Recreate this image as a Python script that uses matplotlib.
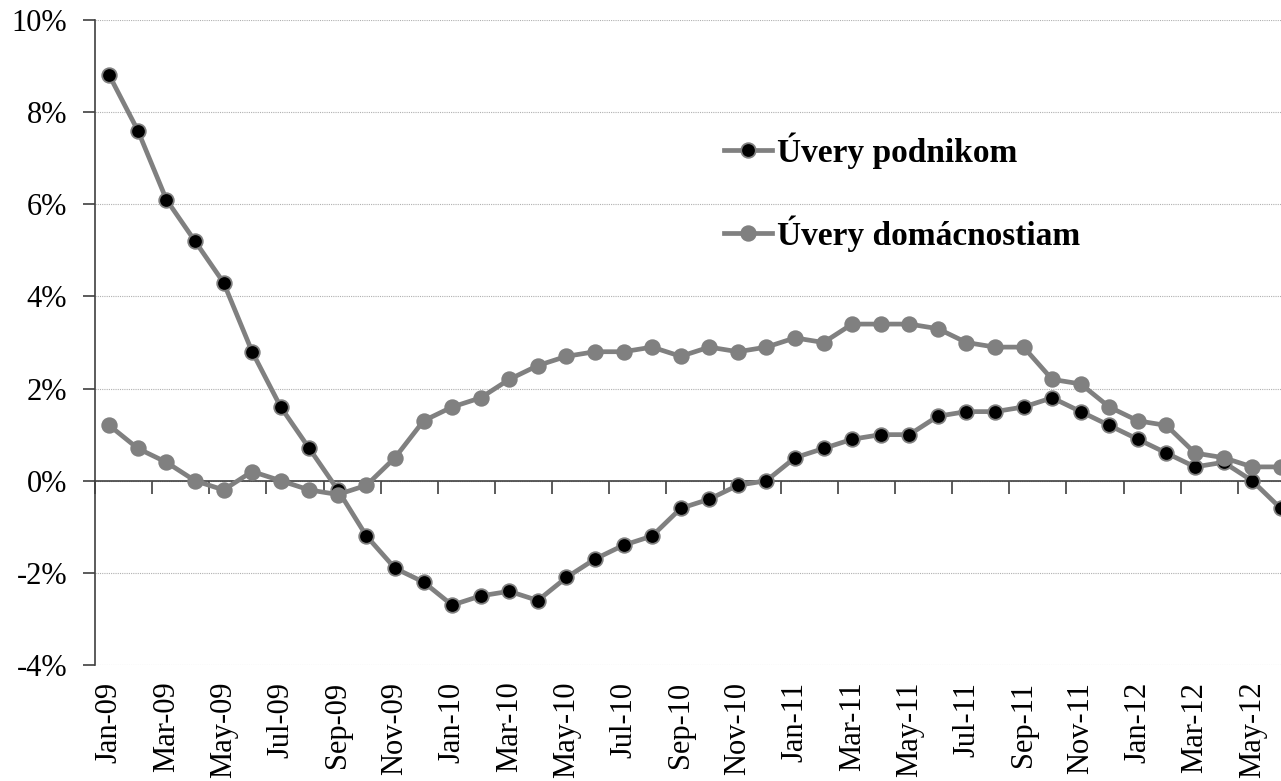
import numpy as np
import matplotlib
matplotlib.use("Agg")
import matplotlib.pyplot as plt

plt.rcParams["font.family"] = ["Liberation Serif", "DejaVu Serif"]

# monthly data, Jan-09 .. Jun-12 (y/y growth, %)
months = ["Jan-09", "Feb-09", "Mar-09", "Apr-09", "May-09", "Jun-09", "Jul-09", "Aug-09",
          "Sep-09", "Oct-09", "Nov-09", "Dec-09", "Jan-10", "Feb-10", "Mar-10", "Apr-10",
          "May-10", "Jun-10", "Jul-10", "Aug-10", "Sep-10", "Oct-10", "Nov-10", "Dec-10",
          "Jan-11", "Feb-11", "Mar-11", "Apr-11", "May-11", "Jun-11", "Jul-11", "Aug-11",
          "Sep-11", "Oct-11", "Nov-11", "Dec-11", "Jan-12", "Feb-12", "Mar-12", "Apr-12",
          "May-12", "Jun-12"]
podnikom = [8.8, 7.6, 6.1, 5.2, 4.3, 2.8, 1.6, 0.7, -0.2, -1.2, -1.9, -2.2,
            -2.7, -2.5, -2.4, -2.6, -2.1, -1.7, -1.4, -1.2, -0.6, -0.4, -0.1, 0.0,
            0.5, 0.7, 0.9, 1.0, 1.0, 1.4, 1.5, 1.5, 1.6, 1.8, 1.5, 1.2,
            0.9, 0.6, 0.3, 0.4, 0.0, -0.6]
domacnostiam = [1.2, 0.7, 0.4, 0.0, -0.2, 0.2, 0.0, -0.2, -0.3, -0.1, 0.5, 1.3,
                1.6, 1.8, 2.2, 2.5, 2.7, 2.8, 2.8, 2.9, 2.7, 2.9, 2.8, 2.9,
                3.1, 3.0, 3.4, 3.4, 3.4, 3.3, 3.0, 2.9, 2.9, 2.2, 2.1, 1.6,
                1.3, 1.2, 0.6, 0.5, 0.3, 0.3]
yticks = [-4, -2, 0, 2, 4, 6, 8, 10]

W, H = 1281, 781
fig = plt.figure(figsize=(W / 100, H / 100), dpi=100)
ax = fig.add_axes([95 / W, 1 - 665 / H, 1200 / W, 645 / H])

x = np.arange(len(months))
gray = "#808080"
ax.plot(x, podnikom, color=gray, lw=3.4, marker="o", ms=10.5, mfc="black",
        mec=gray, mew=1.3, label="Úvery podnikom", zorder=3)
ax.plot(x, domacnostiam, color=gray, lw=3.4, marker="o", ms=10.5, mfc=gray,
        mec=gray, mew=1.3, label="Úvery domácnostiam", zorder=4)

ax.set_xlim(-0.5, len(months) - 0.5)
ax.set_ylim(-4, 10)
ax.set_yticks(yticks)
ax.set_yticklabels([f"{v}%" for v in yticks], fontsize=22)
ax.yaxis.grid(True, color="#b0b0b0", linestyle=(0, (1, 1)), linewidth=0.8)
ax.set_axisbelow(True)
ax.tick_params(axis="y", length=9, width=1.2, color="#404040", pad=11)

for s in ["top", "right"]:
    ax.spines[s].set_visible(False)
ax.spines["left"].set_color("#404040")
ax.spines["left"].set_linewidth(1.2)
ax.spines["bottom"].set_position(("data", 0))
ax.spines["bottom"].set_color("#404040")
ax.spines["bottom"].set_linewidth(1.2)
ax.set_xticks(np.arange(-0.5, len(months), 2))
ax.set_xticklabels([])
ax.tick_params(axis="x", length=9, width=1.2, color="#404040", direction="out")

sec = ax.secondary_xaxis("bottom")
sec.set_xticks(x[::2])
sec.set_xticklabels(months[::2], rotation=90, fontsize=22)
sec.tick_params(length=0, pad=12)
sec.spines["bottom"].set_visible(False)

leg = ax.legend(loc="upper left", bbox_to_anchor=(707 / W, 1 - 116 / H),
                bbox_transform=fig.transFigure, frameon=False,
                prop={"weight": "bold", "size": 24}, handlelength=1.45,
                handletextpad=0.15, labelspacing=1.38, borderpad=0)

fig.savefig("out.png", dpi=100)
